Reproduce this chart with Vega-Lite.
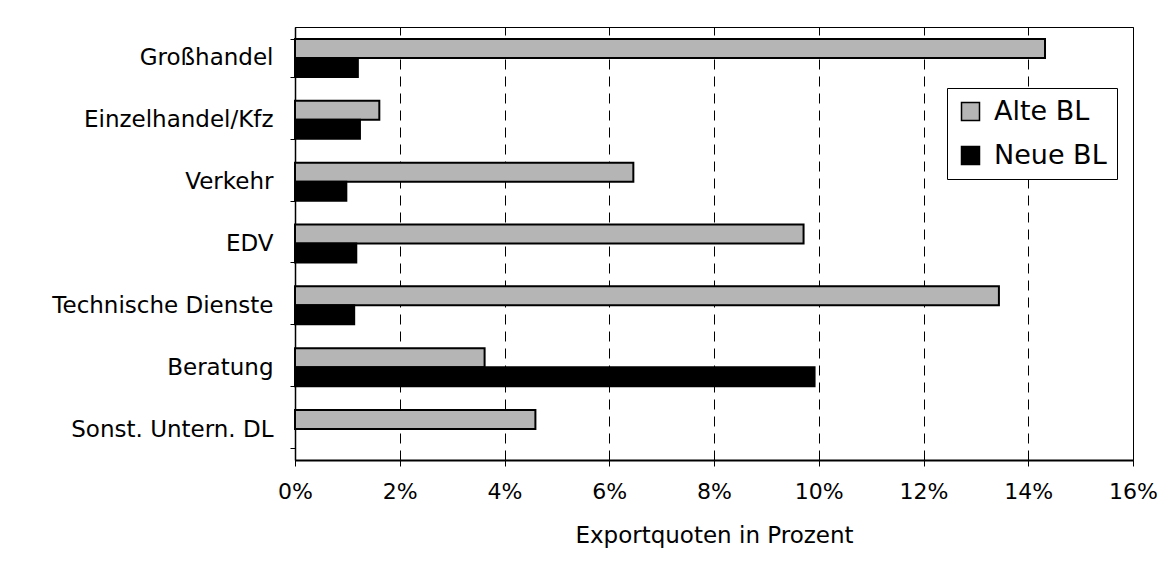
{
  "$schema": "https://vega.github.io/schema/vega-lite/v6.json",
  "width": 838,
  "height": 433,
  "autosize": "none",
  "padding": {"left": 295, "top": 27, "right": 38, "bottom": 120},
  "background": "white",
  "config": {
    "view": {"stroke": "black", "strokeWidth": 1},
    "font": "DejaVu Sans"
  },
  "data": {
    "values": [
      {"Branche": "Großhandel", "Region": "Alte BL", "Quote": 0.1432},
      {"Branche": "Großhandel", "Region": "Neue BL", "Quote": 0.0120},
      {"Branche": "Einzelhandel/Kfz", "Region": "Alte BL", "Quote": 0.0161},
      {"Branche": "Einzelhandel/Kfz", "Region": "Neue BL", "Quote": 0.0124},
      {"Branche": "Verkehr", "Region": "Alte BL", "Quote": 0.0646},
      {"Branche": "Verkehr", "Region": "Neue BL", "Quote": 0.0098},
      {"Branche": "EDV", "Region": "Alte BL", "Quote": 0.0971},
      {"Branche": "EDV", "Region": "Neue BL", "Quote": 0.0117},
      {"Branche": "Technische Dienste", "Region": "Alte BL", "Quote": 0.1344},
      {"Branche": "Technische Dienste", "Region": "Neue BL", "Quote": 0.0113},
      {"Branche": "Beratung", "Region": "Alte BL", "Quote": 0.0362},
      {"Branche": "Beratung", "Region": "Neue BL", "Quote": 0.0992},
      {"Branche": "Sonst. Untern. DL", "Region": "Alte BL", "Quote": 0.0459}
    ]
  },
  "mark": {"type": "bar", "stroke": "black", "strokeWidth": 2},
  "encoding": {
    "y": {
      "field": "Branche",
      "type": "nominal",
      "sort": null,
      "scale": {"paddingInner": 0.386, "paddingOuter": 0.193},
      "axis": {
        "title": null,
        "domainColor": "black",
        "domainWidth": 1.5,
        "ticks": true,
        "tickBand": "extent",
        "tickSize": 5,
        "tickColor": "black",
        "labelFont": "DejaVu Sans",
        "labelFontSize": 23,
        "labelColor": "black",
        "labelPadding": 17,
        "labelLimit": 300,
        "grid": false
      }
    },
    "yOffset": {"field": "Region", "sort": ["Alte BL", "Neue BL"]},
    "x": {
      "field": "Quote",
      "type": "quantitative",
      "scale": {"domain": [0, 0.16], "nice": false},
      "axis": {
        "values": [0, 0.02, 0.04, 0.06, 0.08, 0.1, 0.12, 0.14, 0.16],
        "format": ".0%",
        "labelFlush": false,
        "labelOverlap": false,
        "grid": true,
        "gridDash": [10, 7],
        "gridColor": "black",
        "gridWidth": 1,
        "gridOpacity": 1,
        "domainColor": "black",
        "domainWidth": 2,
        "tickColor": "black",
        "tickSize": 6,
        "labelFont": "DejaVu Sans",
        "labelFontSize": 22,
        "labelColor": "black",
        "labelPadding": 15,
        "title": "Exportquoten in Prozent",
        "titleFont": "DejaVu Sans",
        "titleFontSize": 23,
        "titleFontWeight": "normal",
        "titleColor": "black",
        "titlePadding": 22
      }
    },
    "color": {
      "field": "Region",
      "type": "nominal",
      "scale": {"domain": ["Alte BL", "Neue BL"], "range": ["#b5b5b5", "#000000"]},
      "legend": {
        "title": null,
        "orient": "none",
        "legendX": 652,
        "legendY": 61,
        "fillColor": "white",
        "strokeColor": "black",
        "padding": 10,
        "labelFont": "DejaVu Sans",
        "labelFontSize": 27,
        "labelColor": "black",
        "symbolType": "square",
        "symbolSize": 324,
        "symbolStrokeColor": "black",
        "symbolStrokeWidth": 1.5,
        "rowPadding": 16,
        "labelOffset": 10
      }
    }
  }
}
